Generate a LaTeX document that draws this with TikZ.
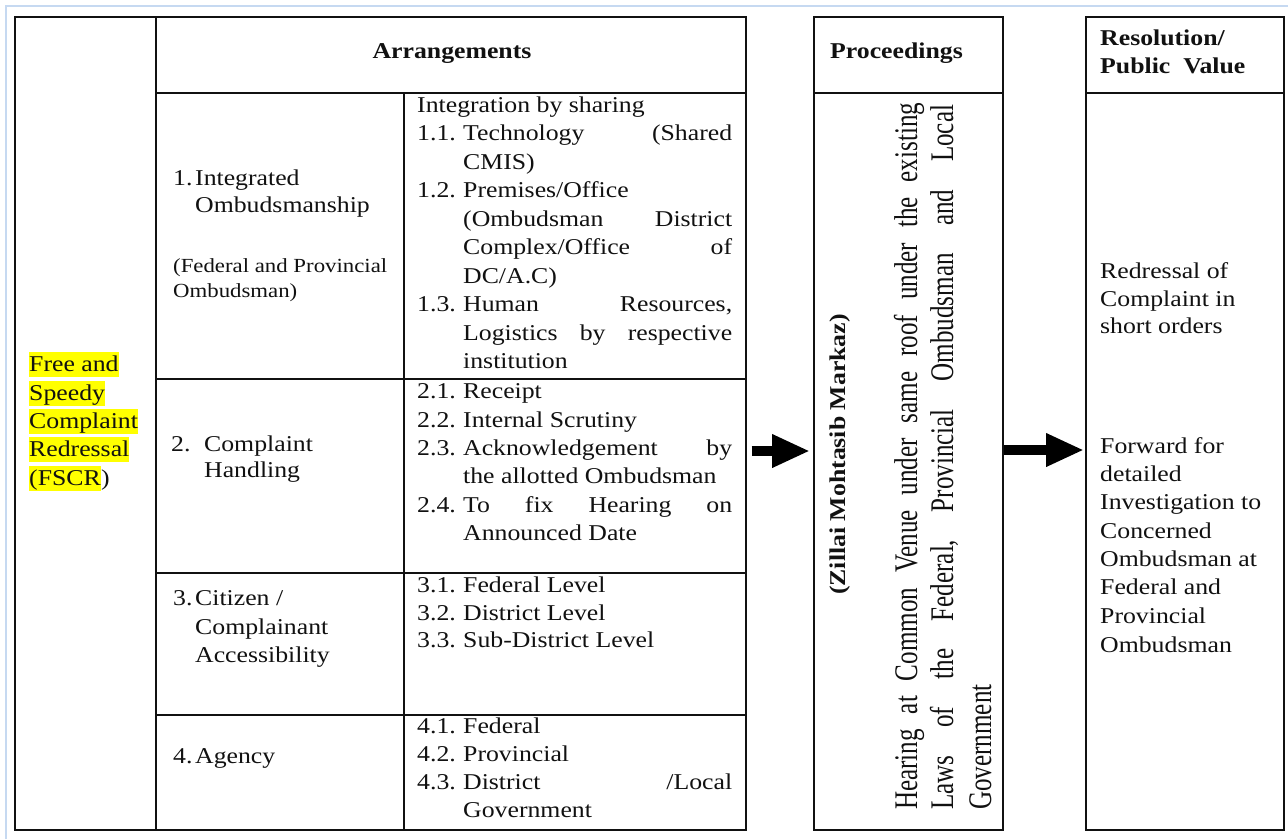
\documentclass[tikz,border=0pt]{standalone}
\usepackage{fontspec}
\setmainfont{Liberation Serif}[FakeStretch=1.14]
\newfontfamily\rotfont{Liberation Serif}[FakeStretch=0.76]
\usetikzlibrary{arrows.meta}
\definecolor{pageblue}{HTML}{C6D9F1}
\definecolor{hlyellow}{HTML}{FFFF00}
\definecolor{ink}{HTML}{111111}
\newcommand\numlbl[1]{\makebox[46pt][l]{#1}}
\newcommand\numind{\hspace*{46pt}}
\newcommand\jline[1]{\makebox[269pt][l]{#1}}
\begin{document}
\begin{tikzpicture}[x=1pt,y=-1pt,
  txt/.style={anchor=base west, inner sep=0pt, font=\fontsize{22.6}{27}\selectfont, text=ink},
  sml/.style={txt, font=\fontsize{20}{24}\selectfont},
  bld/.style={txt, font=\bfseries\fontsize{22.6}{27}\selectfont},
  hl/.style={txt, fill=hlyellow, text height=19pt, text depth=6pt},
  rtxt/.style={anchor=base west, inner sep=0pt, rotate=90, font=\rotfont\fontsize{33}{38}\selectfont, text=ink},
  rbld/.style={bld, rotate=90},
  frame/.style={draw=ink, line width=1.6pt, inner sep=0pt, anchor=north west},
  gridline/.style={draw=ink, line width=1.6pt},
  bigarrow/.style={draw=black, line width=9.5pt, -{Triangle[length=38pt,width=31pt]}}]
\useasboundingbox[fill=white] (0,0) rectangle (1288,839);
% page frame
\draw[pageblue, line width=2pt] (6,839) -- (6,6) -- (1288,6);
% boxes
\node[frame, minimum width=731pt, minimum height=813pt] (tab) at (14,16) {};
\node[frame, minimum width=189pt, minimum height=813pt] (P) at (813,16) {};
\node[frame, minimum width=198pt, minimum height=813pt] (R) at (1085,16) {};
% grid of table
\draw[gridline] (156,16) -- (156,829);
\draw[gridline] (156,93) -- (745,93);
\draw[gridline] (404,93) -- (404,829);
\draw[gridline] (156,379) -- (745,379);
\draw[gridline] (156,573) -- (745,573);
\draw[gridline] (156,715) -- (745,715);
\draw[gridline] (813,93) -- (1002,93);
\draw[gridline] (1085,93) -- (1283,93);
% headers
\node[bld, anchor=base] (harr) at (452,58) {Arrangements};
\node[bld] (hproc) at (830,58) {Proceedings};
\node[bld] (hres1) at (1100,45) {Resolution/};
\node[bld] (hres2) at (1100,73) {Public\ \ Value};
% column 1
\node[hl] (f1) at (29,371) {Free and};
\node[hl] (f2) at (29,400) {Speedy};
\node[hl] (f3) at (29,428) {Complaint};
\node[hl] (f4) at (29,456) {Redressal};
\node[hl] (f5) at (29,485) {(FSCR};
\node[txt] (f6) at (f5.base east) {)};
% column 2
\node[txt] (a1) at (173,185) {\makebox[22pt][l]{1.}Integrated};
\node[txt] (a2) at (195,212) {Ombudsmanship};
\node[sml] (a3) at (173,272) {(Federal and Provincial};
\node[sml] (a4) at (173,297) {Ombudsman)};
\node[txt] (b1) at (171,451) {\makebox[33pt][l]{2.}Complaint};
\node[txt] (b2) at (204,477) {Handling};
\node[txt] (d1) at (173,605) {\makebox[22pt][l]{3.}Citizen /};
\node[txt] (d2) at (195,634) {Complainant};
\node[txt] (d3) at (195,662) {Accessibility};
\node[txt] (e1) at (173,763) {\makebox[22pt][l]{4.}Agency};
% column 3
\node[txt] (c11) at (417,112) {Integration by sharing};
\node[txt] (c12) at (417,140.5) {\numlbl{1.1.}\jline{Technology\hfill(Shared}};
\node[txt] (c13) at (417,169) {\numind CMIS)};
\node[txt] (c14) at (417,197.5) {\numlbl{1.2.}Premises/Office};
\node[txt] (c15) at (417,226) {\numind\jline{(Ombudsman\hfill District}};
\node[txt] (c16) at (417,254.5) {\numind\jline{Complex/Office\hfill of}};
\node[txt] (c17) at (417,283) {\numind DC/A.C)};
\node[txt] (c18) at (417,311.5) {\numlbl{1.3.}\jline{Human\hfill Resources,}};
\node[txt] (c19) at (417,340) {\numind\jline{Logistics\hfill by\hfill respective}};
\node[txt] (c110) at (417,368.5) {\numind institution};
\node[txt] (c21) at (417,398) {\numlbl{2.1.}Receipt};
\node[txt] (c22) at (417,427) {\numlbl{2.2.}Internal Scrutiny};
\node[txt] (c23) at (417,455) {\numlbl{2.3.}\jline{Acknowledgement\hfill by}};
\node[txt] (c24) at (417,483.5) {\numind the allotted Ombudsman};
\node[txt] (c25) at (417,512) {\numlbl{2.4.}\jline{To\hfill fix\hfill Hearing\hfill on}};
\node[txt] (c26) at (417,540) {\numind Announced Date};
\node[txt] (c31) at (417,592.5) {\numlbl{3.1.}Federal Level};
\node[txt] (c32) at (417,620) {\numlbl{3.2.}District Level};
\node[txt] (c33) at (417,647.5) {\numlbl{3.3.}Sub-District Level};
\node[txt] (c41) at (417,733) {\numlbl{4.1.}Federal};
\node[txt] (c42) at (417,761) {\numlbl{4.2.}Provincial};
\node[txt] (c43) at (417,789) {\numlbl{4.3.}\jline{District\hfill/Local}};
\node[txt] (c44) at (417,817) {\numind Government};
% proceedings
\node[rbld] (z1) at (845,595) {(Zillai Mohtasib Markaz)};
\node[rtxt] (p1) at (917,810) {\makebox[707pt][l]{Hearing\hfill at\hfill Common\hfill Venue\hfill under\hfill same\hfill roof\hfill under\hfill the\hfill existing}};
\node[rtxt] (p2) at (953,810) {\makebox[705pt][l]{Laws\hfill of\hfill the\hfill Federal,\hfill Provincial\hfill Ombudsman\hfill and\hfill Local}};
\node[rtxt] (p3) at (991,810) {Government};
% resolution
\node[txt] (r1) at (1100,278) {Redressal of};
\node[txt] (r2) at (1100,306) {Complaint in};
\node[txt] (r3) at (1100,333) {short orders};
\node[txt] (s1) at (1100,453) {Forward for};
\node[txt] (s2) at (1100,481) {detailed};
\node[txt] (s3) at (1100,509) {Investigation to};
\node[txt] (s4) at (1100,538) {Concerned};
\node[txt] (s5) at (1100,566) {Ombudsman at};
\node[txt] (s6) at (1100,594) {Federal and};
\node[txt] (s7) at (1100,623) {Provincial};
\node[txt] (s8) at (1100,652) {Ombudsman};
% arrows
\coordinate (ay1) at (0,451);
\coordinate (ay2) at (0,450);
\draw[bigarrow, shorten <=5pt, shorten >=3pt] (tab.east |- ay1) -- (P.west |- ay1);
\draw[bigarrow, shorten >=1pt] (P.east |- ay2) -- (R.west |- ay2);
\end{tikzpicture}
\end{document}
